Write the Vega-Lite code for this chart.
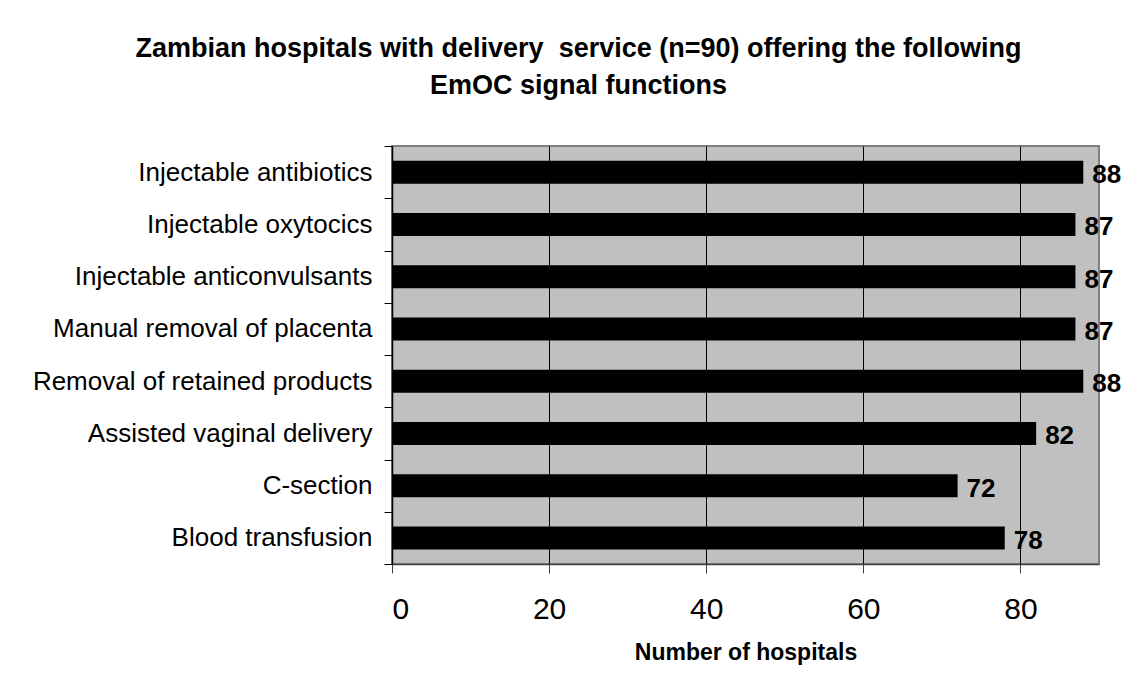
{
  "$schema": "https://vega.github.io/schema/vega-lite/v6.json",
  "autosize": {"type": "none"},
  "width": 707,
  "height": 418,
  "padding": {"left": 392, "top": 146, "right": 30, "bottom": 129},
  "background": "white",
  "config": {
    "font": "Liberation Sans",
    "view": {"fill": "#C0C0C0", "stroke": "#808080", "strokeWidth": 2}
  },
  "title": {
    "text": ["Zambian hospitals with delivery \u00a0service (n=90) offering the following", "EmOC signal functions"],
    "font": "Liberation Sans",
    "fontSize": 27,
    "fontWeight": "bold",
    "color": "black",
    "anchor": "middle",
    "baseline": "bottom",
    "lineHeight": 37,
    "offset": 6,
    "dx": -167
  },
  "data": {
    "values": [
      {"function": "Injectable antibiotics", "hospitals": 88},
      {"function": "Injectable oxytocics", "hospitals": 87},
      {"function": "Injectable anticonvulsants", "hospitals": 87},
      {"function": "Manual removal of placenta", "hospitals": 87},
      {"function": "Removal of retained products", "hospitals": 88},
      {"function": "Assisted vaginal delivery", "hospitals": 82},
      {"function": "C-section", "hospitals": 72},
      {"function": "Blood transfusion", "hospitals": 78}
    ]
  },
  "encoding": {
    "y": {
      "field": "function",
      "type": "nominal",
      "sort": null,
      "scale": {"paddingInner": 0, "paddingOuter": 0},
      "axis": {
        "title": null,
        "tickBand": "extent",
        "tickSize": 8,
        "tickColor": "black",
        "domainColor": "black",
        "domainWidth": 1.5,
        "labelFontSize": 26,
        "labelColor": "black",
        "labelPadding": 12,
        "labelLimit": 500,
        "grid": false
      }
    },
    "x": {
      "field": "hospitals",
      "type": "quantitative",
      "scale": {"domain": [0, 90], "nice": false},
      "axis": {
        "values": [0, 20, 40, 60, 80],
        "title": "Number of hospitals",
        "titleFontSize": 23,
        "titleFontWeight": "bold",
        "titleColor": "black",
        "titlePadding": 17,
        "tickSize": 9,
        "tickColor": "#404040",
        "domainColor": "#404040",
        "domainWidth": 1.5,
        "labelFontSize": 30,
        "labelColor": "black",
        "labelPadding": 21,
        "grid": true,
        "gridColor": "black",
        "gridOpacity": 1,
        "gridWidth": 1
      }
    }
  },
  "layer": [
    {"mark": {"type": "bar", "color": "black", "size": 23}},
    {
      "mark": {"type": "text", "align": "left", "baseline": "middle", "dx": 9, "dy": 3, "fontSize": 26, "fontWeight": "bold", "color": "black"},
      "encoding": {"text": {"field": "hospitals", "type": "quantitative"}}
    }
  ]
}
